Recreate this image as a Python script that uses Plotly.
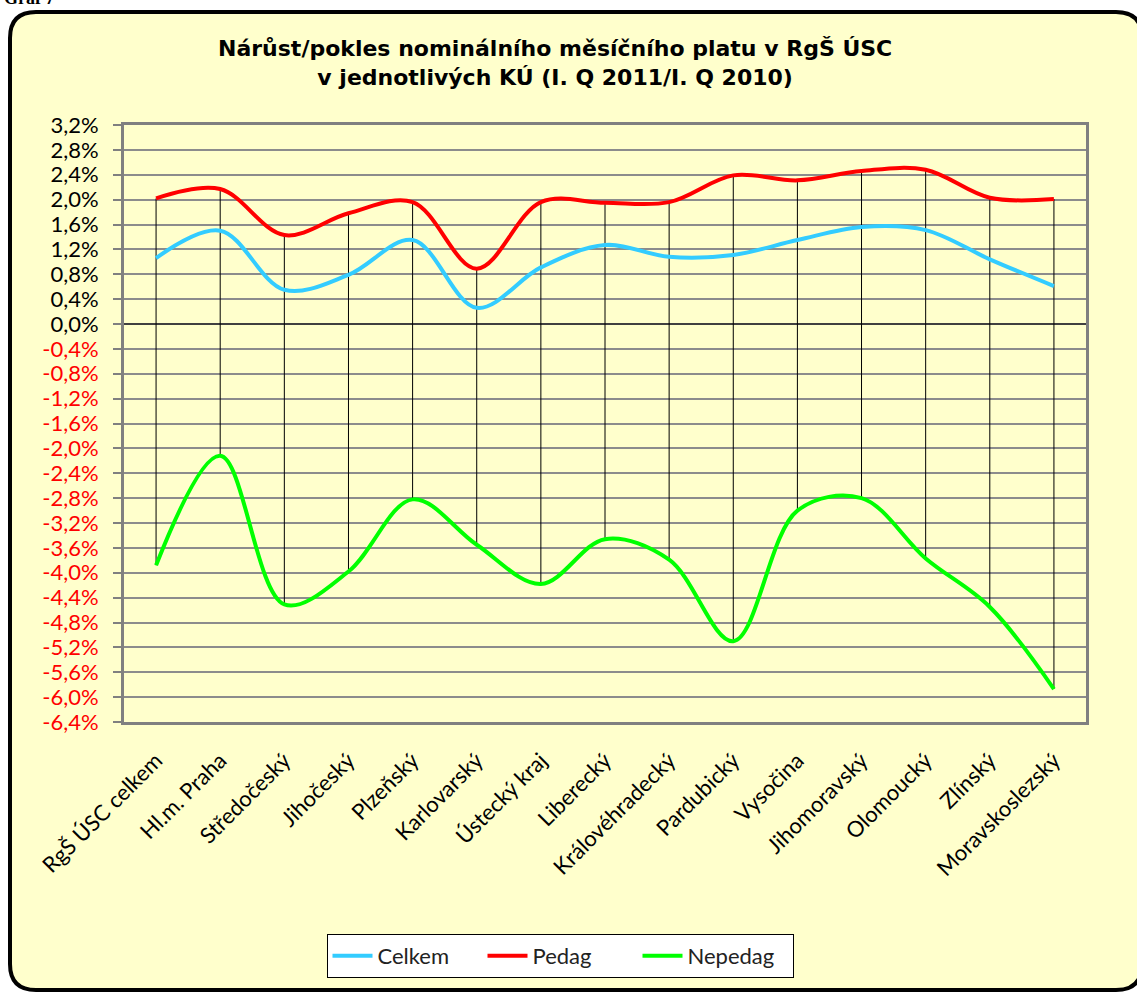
import plotly.graph_objects as go

# ---------------- data ----------------
categories = ["RgŠ ÚSC celkem", "Hl.m. Praha", "Středočeský", "Jihočeský", "Plzeňský",
              "Karlovarský", "Ústecký kraj", "Liberecký", "Královéhradecký", "Pardubický",
              "Vysočina", "Jihomoravský", "Olomoucký", "Zlínský", "Moravskoslezský"]
celkem = [1.06, 1.50, 0.55, 0.79, 1.35, 0.26, 0.91, 1.27, 1.08, 1.11, 1.35, 1.56, 1.51, 1.04, 0.61]
pedag = [2.02, 2.17, 1.43, 1.78, 1.96, 0.89, 1.96, 1.95, 1.96, 2.39, 2.31, 2.46, 2.48, 2.03, 2.01]
nepedag = [-3.88, -2.12, -4.51, -3.98, -2.82, -3.55, -4.18, -3.46, -3.79, -5.10, -3.00, -2.80, -3.77, -4.55, -5.87]

y_tick_values = [3.2, 2.8, 2.4, 2.0, 1.6, 1.2, 0.8, 0.4, 0.0, -0.4, -0.8, -1.2, -1.6, -2.0, -2.4,
                 -2.8, -3.2, -3.6, -4.0, -4.4, -4.8, -5.2, -5.6, -6.0, -6.4]

title_text = "Nárůst/pokles nominálního měsíčního platu v RgŠ ÚSC<br>v jednotlivých KÚ (I. Q 2011/I. Q 2010)"

# ---------------- layout geometry (page pixels; body margin removed below) ----------------
W, H = 1137, 992
L, R, T, B = 124, 1086, 125, 722
PW, PH = R - L, B - T


def px(x):
    return (x - L) / PW


def py(y):
    return (B - y) / PH


def fmt(v):
    s = f"{v:.1f}%".replace(".", ",")
    if v < -1e-9:
        return f"<span style='color:#FF0000'>{s}</span>"
    return s


tick_text = [fmt(v) for v in y_tick_values]

# high-low lines between the highest and lowest series at each category
hl_x, hl_y = [], []
for c, a, b, d in zip(categories, celkem, pedag, nepedag):
    hl_x += [c, c, None]
    hl_y += [max(a, b, d), min(a, b, d), None]

fig = go.Figure()
fig.add_trace(go.Scatter(x=hl_x, y=hl_y, mode="lines", line=dict(color="black", width=1),
                         showlegend=False, hoverinfo="skip"))
fig.add_trace(go.Scatter(x=categories, y=celkem, name="Celkem", mode="lines",
                         line=dict(color="#33CCFF", width=4, shape="spline", smoothing=1.0)))
fig.add_trace(go.Scatter(x=categories, y=pedag, name="Pedag", mode="lines",
                         line=dict(color="#FF0000", width=4, shape="spline", smoothing=1.0)))
fig.add_trace(go.Scatter(x=categories, y=nepedag, name="Nepedag", mode="lines",
                         line=dict(color="#00FF00", width=4, shape="spline", smoothing=1.0)))

# rounded outer frame (page pixels)
x0, y0, x1, y1, r = 10, 12, 1142, 990, 26
rx, ry = r / PW, r / PH
X0, X1, Y0, Y1 = px(x0), px(x1), py(y0), py(y1)
path = (f"M {X0+rx},{Y0} L {X1-rx},{Y0} Q {X1},{Y0} {X1},{Y0-ry} "
        f"L {X1},{Y1+ry} Q {X1},{Y1} {X1-rx},{Y1} "
        f"L {X0+rx},{Y1} Q {X0},{Y1} {X0},{Y1+ry} "
        f"L {X0},{Y0-ry} Q {X0},{Y0} {X0+rx},{Y0} Z")

tick_font = dict(family="Lato, Open Sans, sans-serif", size=22, color="black")

fig.update_layout(
    width=W, height=H,
    margin=dict(l=L, r=W - R, t=T, b=H - B, autoexpand=False),
    paper_bgcolor="white",
    plot_bgcolor="#DDD9C3",
    showlegend=True,
    legend=dict(orientation="h", x=px(560), xanchor="center", y=py(956), yanchor="middle",
                bgcolor="white", bordercolor="black", borderwidth=1,
                font=dict(family="Lato, Open Sans, sans-serif", size=22, color="#222"),
                itemwidth=40, entrywidth=100, tracegroupgap=0),
    shapes=[dict(type="path", xref="paper", yref="paper", path=path,
                 fillcolor="#FFFFCC", line=dict(color="black", width=4), layer="below")],
    annotations=[
        dict(text="<b>" + title_text + "</b>", xref="paper", yref="paper",
             x=px(555), y=py(63), xanchor="center", yanchor="middle", showarrow=False,
             font=dict(family="DejaVu Sans, Verdana, sans-serif", size=22, color="black")),
        dict(text="<b>Graf 7</b>", xref="paper", yref="paper", x=px(2), y=py(10),
             xanchor="left", yanchor="bottom", showarrow=False,
             font=dict(family="Liberation Serif, Times New Roman, serif", size=18, color="black")),
    ],
    xaxis=dict(type="category", range=[-0.5, len(categories) - 0.5], showgrid=False,
               tickangle=-45, ticks="", showline=True, linecolor="#808080", linewidth=3,
               mirror=True, tickfont=tick_font, ticklabelstandoff=14),
    yaxis=dict(range=[-6.4, 3.2], tickvals=y_tick_values, ticktext=tick_text,
               showgrid=True, gridcolor="#8C8C8C", gridwidth=2,
               zeroline=True, zerolinecolor="#404040", zerolinewidth=2,
               ticks="outside", ticklen=8, tickcolor="#808080", tickwidth=2,
               showline=True, linecolor="#808080", linewidth=3, mirror=True,
               tickfont=tick_font, ticklabelstandoff=10),
)

fig.write_html("out.html", config={"displayModeBar": False},
               post_script="document.body.style.margin='0px';")
